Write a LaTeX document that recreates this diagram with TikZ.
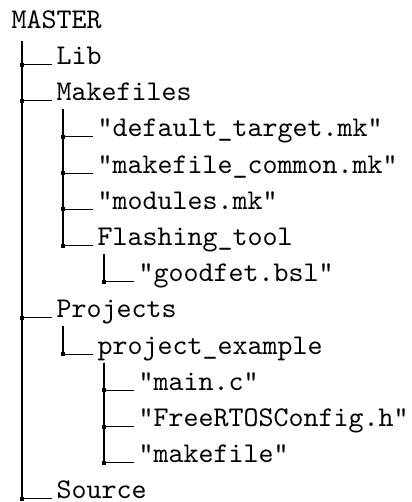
\documentclass[tikz,border=0pt]{standalone}
\usepackage{tikz}
\usetikzlibrary{positioning,calc}
\tikzset{
  dirnode/.style={anchor=base west, inner sep=0pt, font=\ttfamily, text depth=2.8pt},
  dirroot/.style={dirnode, text depth=4.2pt},
  dirline/.style={line width=0.4pt},
  dirdot/.style={rectangle, fill, inner sep=0pt, minimum size=1.4pt},
}
% parent -> child connector of the tree
\newcommand{\dirbranch}[2]{%
  \draw[dirline] (#1.south -| #2.base west) ++(-11.9pt,0)
    |- node[dirdot]{} ([xshift=-1.5pt]#2.base west);}

\begin{document}
\begin{tikzpicture}[x=0.35pt, y=-0.35pt]
  \useasboundingbox (0,0) rectangle (412,502);
  \node[dirroot] (master) at (11,28.3) {MASTER};
  \node[dirnode] (lib) at (56,64.5) {Lib};
  \node[dirnode] (makefiles) at (56,100.7) {Makefiles};
  \node[dirnode] (deftarget) at (97,136.9) {"default\_target.mk"};
  \node[dirnode] (mkcommon) at (97,173.1) {"makefile\_common.mk"};
  \node[dirnode] (modules) at (97,209.3) {"modules.mk"};
  \node[dirnode] (flashing) at (97,245.5) {Flashing\_tool};
  \node[dirnode] (goodfet) at (138,281.7) {"goodfet.bsl"};
  \node[dirnode] (projects) at (56,317.9) {Projects};
  \node[dirnode] (projex) at (97,354.1) {project\_example};
  \node[dirnode] (mainc) at (138,390.3) {"main.c"};
  \node[dirnode] (rtosconf) at (138,426.5) {"FreeRTOSConfig.h"};
  \node[dirnode] (mkfile) at (138,462.7) {"makefile"};
  \node[dirnode] (source) at (56,498.9) {Source};
  % level 1
  \dirbranch{master}{lib}
  \dirbranch{master}{makefiles}
  \dirbranch{master}{projects}
  \dirbranch{master}{source}
  % level 2
  \dirbranch{makefiles}{deftarget}
  \dirbranch{makefiles}{mkcommon}
  \dirbranch{makefiles}{modules}
  \dirbranch{makefiles}{flashing}
  \dirbranch{projects}{projex}
  % level 3
  \dirbranch{flashing}{goodfet}
  \dirbranch{projex}{mainc}
  \dirbranch{projex}{rtosconf}
  \dirbranch{projex}{mkfile}
\end{tikzpicture}
\end{document}
